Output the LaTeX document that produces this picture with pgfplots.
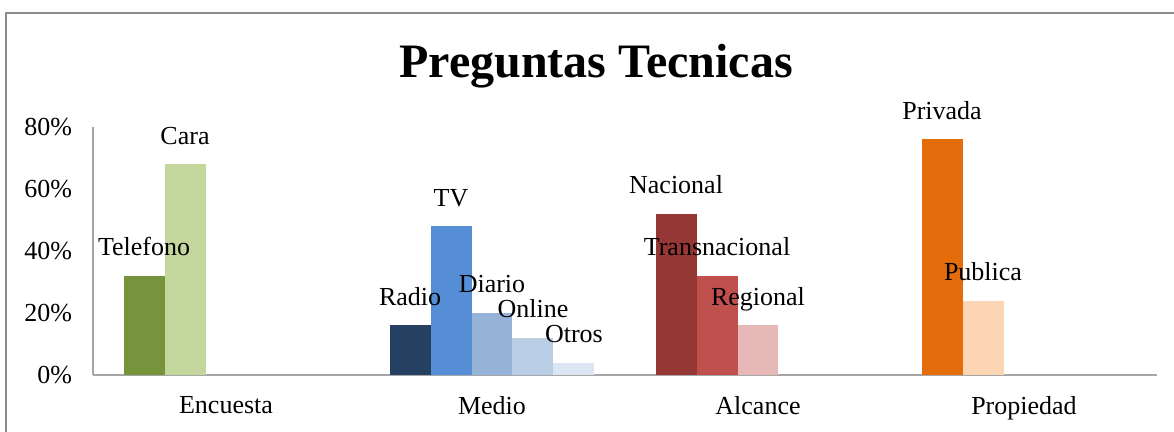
\documentclass[border=0pt]{standalone}
\usepackage{fontspec}
\setmainfont{Liberation Serif}
\usepackage{pgfplots}
\pgfplotsset{compat=1.18}
\definecolor{cTel}{HTML}{77933C}
\definecolor{cCara}{HTML}{C3D69B}
\definecolor{cRadio}{HTML}{254061}
\definecolor{cTV}{HTML}{558ED5}
\definecolor{cDiario}{HTML}{95B3D7}
\definecolor{cOnline}{HTML}{B9CDE5}
\definecolor{cOtros}{HTML}{DCE6F2}
\definecolor{cNac}{HTML}{953735}
\definecolor{cTrans}{HTML}{C0504D}
\definecolor{cReg}{HTML}{E6B9B8}
\definecolor{cPriv}{HTML}{E46C0A}
\definecolor{cPub}{HTML}{FCD5B5}
\definecolor{framegray}{HTML}{8C8C8C}
\definecolor{axisgray}{HTML}{A6A6A6}
\begin{document}
\begin{tikzpicture}[x=1pt,y=1pt]
\useasboundingbox (0,0) rectangle (587,216);
\draw[color=framegray, line width=1.2pt] (3,-2) -- (3,209.5) -- (590,209.5);
\node[anchor=base, font=\fontsize{24}{28}\selectfont\bfseries] at (298,177) {Preguntas Tecnicas};
\begin{axis}[
  at={(46.5pt,28.5pt)}, anchor=south west,
  scale only axis, width=532pt, height=124pt,
  xmin=-0.5, xmax=3.5, ymin=0, ymax=80,
  axis x line=bottom, axis y line=left,
  axis line style={color=axisgray, line width=0.6pt, -},
  every outer x axis line/.append style={-},
  every outer y axis line/.append style={-},
  major tick length=0pt,
  xtick={0,1,2,3},
  xticklabels={Encuesta,Medio,Alcance,Propiedad},
  ytick={0,20,40,60,80},
  /pgf/number format/assume math mode=true,
  yticklabel={\pgfmathprintnumber{\tick}\%},
  every tick label/.append style={font=\fontsize{13}{15}\selectfont},
  yticklabel style={xshift=-7pt},
  xticklabel style={yshift=-7pt},
  ybar, clip=false,
  mybar/.style={ybar, fill=#1, draw=none, bar width=0.154, bar shift=0pt},
  every node near coord/.append style={anchor=base, yshift=10pt, font=\fontsize{13}{15}\selectfont, text=black},
]
\addplot[mybar=cTel, nodes near coords={Telefono}] coordinates {(-0.308,32)};
\addplot[mybar=cCara, nodes near coords={Cara}] coordinates {(-0.154,68)};
\addplot[mybar=cRadio, nodes near coords={Radio}] coordinates {(0.692,16)};
\addplot[mybar=cTV, nodes near coords={TV}] coordinates {(0.846,48)};
\addplot[mybar=cDiario, nodes near coords={Diario}] coordinates {(1.0,20)};
\addplot[mybar=cOnline, nodes near coords={Online}] coordinates {(1.154,12)};
\addplot[mybar=cOtros, nodes near coords={Otros}] coordinates {(1.308,4)};
\addplot[mybar=cNac, nodes near coords={Nacional}] coordinates {(1.692,52)};
\addplot[mybar=cTrans, nodes near coords={Transnacional}] coordinates {(1.846,32)};
\addplot[mybar=cReg, nodes near coords={Regional}] coordinates {(2.0,16)};
\addplot[mybar=cPriv, nodes near coords={Privada}] coordinates {(2.692,76)};
\addplot[mybar=cPub, nodes near coords={Publica}] coordinates {(2.846,24)};
\end{axis}
\end{tikzpicture}
\end{document}
